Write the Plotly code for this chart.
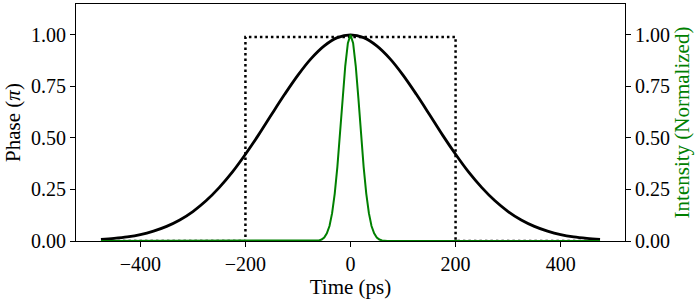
import plotly.graph_objects as go

# Phase profile (units of pi)
phase_t = [-475, -450, -425, -400, -375, -350, -325, -300, -275, -250, -225, -200,
           -175, -150, -125, -100, -75, -50, -25, 0, 25, 50, 75, 100, 125, 150,
           175, 200, 225, 250, 275, 300, 325, 350, 375, 400, 425, 450, 475]
phase_val = [0.008, 0.013, 0.020, 0.031, 0.048, 0.071, 0.102, 0.143, 0.195, 0.259,
             0.334, 0.421, 0.515, 0.615, 0.713, 0.805, 0.885, 0.947, 0.987, 1.000,
             0.987, 0.947, 0.885, 0.805, 0.713, 0.615, 0.515, 0.421, 0.334, 0.259,
             0.195, 0.143, 0.102, 0.071, 0.048, 0.031, 0.020, 0.013, 0.008]

# Rectangular (dotted) phase window
rect_t = [-475, -200, -200, 200, 200, 475]
rect_val = [0, 0, 0.99, 0.99, 0, 0]

# Normalized intensity
int_t = [-475, -70, -65, -60, -55, -50, -45, -40, -35, -30, -25, -20, -15, -10, -5, 0,
         5, 10, 15, 20, 25, 30, 35, 40, 45, 50, 55, 60, 65, 70, 475]
int_val = [0, 0.0003, 0.001, 0.003, 0.007, 0.017, 0.037, 0.073, 0.135, 0.230, 0.360,
           0.520, 0.693, 0.849, 0.960, 1.000, 0.960, 0.849, 0.693, 0.520, 0.360,
           0.230, 0.135, 0.073, 0.037, 0.017, 0.007, 0.003, 0.001, 0.0003, 0]

x_ticks = [-400, -200, 0, 200, 400]
y_ticks = [0, 0.25, 0.5, 0.75, 1.0]
y_labels = ["0.00", "0.25", "0.50", "0.75", "1.00"]

FONT = "Liberation Serif"
GREEN = "#008000"

fig = go.Figure()
fig.add_trace(go.Scatter(x=rect_t, y=rect_val, mode="lines",
                         line=dict(color="black", width=2.5, dash="2.5px,3px"), showlegend=False))
fig.add_trace(go.Scatter(x=phase_t, y=phase_val, mode="lines", line_shape="spline",
                         line=dict(color="black", width=2.8), showlegend=False))
fig.add_trace(go.Scatter(x=int_t, y=int_val, mode="lines", yaxis="y2",
                         line=dict(color=GREEN, width=2), showlegend=False))

axis_common = dict(showgrid=False, zeroline=False, linecolor="black", linewidth=1.2,
                   ticks="outside", ticklen=5, tickwidth=1.2, tickcolor="black",
                   automargin=False,
                   tickfont=dict(family=FONT, size=20, color="black"))

fig.update_layout(
    width=700, height=300,
    margin=dict(l=76, r=75, t=4, b=59),
    plot_bgcolor="white", paper_bgcolor="white",
    font=dict(family=FONT, size=20, color="black"),
    xaxis=dict(range=[-522.5, 522.5], tickvals=x_ticks, mirror=True,
               title=dict(text="Time (ps)", font=dict(family=FONT, size=21), standoff=3),
               **axis_common),
    yaxis=dict(range=[0, 1.15], tickvals=y_ticks, ticktext=y_labels, mirror=False,
               title=dict(text="Phase (<i>π</i>)", font=dict(family=FONT, size=21), standoff=4),
               **axis_common),
    yaxis2=dict(range=[0, 1.15], tickvals=y_ticks, ticktext=y_labels, overlaying="y",
                side="right",
                title=dict(text="Intensity (Normalized)", font=dict(family=FONT, size=21, color=GREEN),
                           standoff=4),
                **axis_common),
)

fig.write_html("out.html", config={"displayModeBar": False},
               post_script="document.body.style.margin='0';document.body.style.padding='0';")
